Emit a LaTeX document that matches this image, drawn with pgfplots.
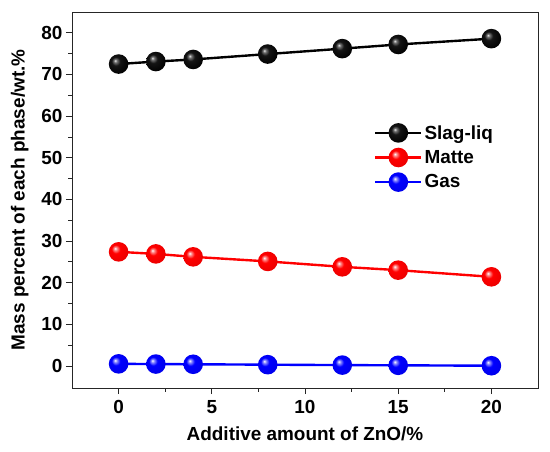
\documentclass[border=0pt]{standalone}
\usepackage{fontspec}
\setmainfont{Liberation Sans}
\usepackage{pgfplots}
\pgfplotsset{compat=1.18}
\pgfdeclareradialshading{redball}{\pgfpoint{-9bp}{9bp}}{color(0bp)=(white); color(4bp)=(red!45!white); color(11bp)=(red); color(30bp)=(red!92!black); color(50bp)=(red!80!black)}
\pgfdeclareradialshading{blueball}{\pgfpoint{-9bp}{9bp}}{color(0bp)=(white); color(4bp)=(blue!45!white); color(11bp)=(blue); color(30bp)=(blue!92!black); color(50bp)=(blue!80!black)}
\pgfdeclareradialshading{blackball}{\pgfpoint{-9bp}{9bp}}{color(0bp)=(white!92!black); color(4bp)=(black!55); color(11bp)=(black!92); color(30bp)=(black); color(50bp)=(black)}
\pgfdeclareplotmark{redb}{\pgfpathcircle{\pgfpointorigin}{\pgfplotmarksize}\pgfshadepath{redball}{0}\pgfusepath{}}
\pgfdeclareplotmark{blueb}{\pgfpathcircle{\pgfpointorigin}{\pgfplotmarksize}\pgfshadepath{blueball}{0}\pgfusepath{}}
\pgfdeclareplotmark{blackb}{\pgfpathcircle{\pgfpointorigin}{\pgfplotmarksize}\pgfshadepath{blackball}{0}\pgfusepath{}}
\begin{document}
\begin{tikzpicture}
\begin{axis}[
  scale only axis,
  width=466bp, height=376bp,
  xmin=-2.5, xmax=22.5,
  ymin=-5.3, ymax=85,
  xtick={0,5,10,15,20},
  minor x tick num=1,
  ytick={0,10,...,80},
  minor y tick num=1,
  tick align=outside,
  xtick pos=bottom, ytick pos=left,
  major tick length=6bp,
  minor tick length=3.5bp,
  axis line style={line width=0.8pt, black!85},
  tick style={line width=0.8pt, black!85},
  /pgf/number format/assume math mode=true,
  ticklabel style={font=\fontsize{19}{21}\selectfont\bfseries},
  xticklabel style={yshift=-3bp},
  xlabel={Additive amount of ZnO/\%},
  ylabel={Mass percent of each phase/wt.\%},
  label style={font=\fontsize{19}{21}\selectfont\bfseries},
  xlabel style={yshift=-6bp},
  ylabel style={yshift=6bp},
  legend style={draw=none, fill=none, at={(0.648,0.705)}, anchor=north west,
    font=\fontsize{19}{21}\selectfont\bfseries, row sep=5bp,
    inner sep=0pt, nodes={inner sep=2pt}},
  legend cell align=left,
  legend image code/.code={
    \draw[mark repeat=2, mark phase=2] plot coordinates {(0bp,0bp) (23bp,0bp) (46bp,0bp)};
  },
  every axis plot/.append style={line width=2.4pt, mark size=9.8bp},
]
\addplot[black, mark=blackb] coordinates {
 (0,72.5) (2,73.1) (4,73.6) (8,74.9) (12,76.2) (15,77.2) (20,78.6)};
\addlegendentry{Slag-liq}
\addplot[red, mark=redb] coordinates {
 (0,27.4) (2,26.9) (4,26.2) (8,25.1) (12,23.8) (15,23.0) (20,21.4)};
\addlegendentry{Matte}
\addplot[blue, mark=blueb] coordinates {
 (0,0.5) (2,0.45) (4,0.4) (8,0.3) (12,0.2) (15,0.15) (20,0.05)};
\addlegendentry{Gas}
\end{axis}
\pgfresetboundingbox
\path[use as bounding box] (-72bp,-64bp) rectangle (478bp,388bp);
\end{tikzpicture}
\end{document}
